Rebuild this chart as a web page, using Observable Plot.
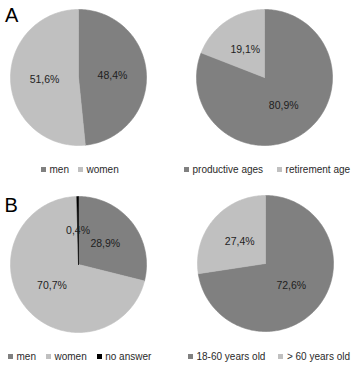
<!DOCTYPE html>
<html>
<head>
<meta charset="utf-8">
<script src="https://cdn.jsdelivr.net/npm/d3@7"></script>
<script src="https://cdn.jsdelivr.net/npm/@observablehq/plot@0.6"></script>
<style>
  html, body { margin: 0; padding: 0; background: #fff; }
  #root { position: relative; width: 360px; height: 372px; overflow: hidden; font-family: "Liberation Sans", Arial, sans-serif; }
  .pie { position: absolute; }
  .panel { position: absolute; font-size: 20px; line-height: 20px; color: #000; }
  .leg { position: absolute; }
  .leg > div { min-height: 0 !important; margin: 0 !important; padding: 0 !important; line-height: 12px !important;
               font: 10px "Liberation Sans", Arial, sans-serif !important; color: #2a2a2a !important;
               display: flex !important; flex-wrap: nowrap !important; align-items: center !important; }
  .leg span { display: inline-flex !important; align-items: center !important; white-space: nowrap; margin: 0 !important; }
  .leg svg { margin-right: 3.5px !important; margin-left: 0 !important; }
</style>
</head>
<body>
<div id="root"></div>
<script>
// ---- data ----
const panelLabels = ["A", "B"];

const sexA_categories = ["men", "women"];
const sexA_values = [48.4, 51.6];

const ageA_categories = ["productive ages", "retirement age"];
const ageA_values = [80.9, 19.1];

const sexB_categories = ["men", "women", "no answer"];
const sexB_values = [28.9, 70.7, 0.4];

const ageB_categories = ["18-60 years old", "> 60 years old"];
const ageB_values = [72.6, 27.4];

const DARK = "#808080", LIGHT = "#c0c0c0", BLACK = "#000000";
const sexColors = [DARK, LIGHT, BLACK];
const ageColors = [DARK, LIGHT];

// ---- helpers ----
function fmt(v) { return v.toFixed(1).replace(".", ",") + "%"; }

function slicePolygons(categories, values) {
  const total = d3.sum(values);
  const pts = [];
  let acc = 0;
  categories.forEach((c, i) => {
    const s = acc / total, e = (acc + values[i]) / total;
    acc += values[i];
    const n = Math.max(2, Math.ceil((e - s) * 360));
    pts.push({cat: c, x: 0, y: 0});
    for (let k = 0; k <= n; k++) {
      const t = 2 * Math.PI * (s + (e - s) * k / n);
      pts.push({cat: c, x: Math.sin(t), y: Math.cos(t)});
    }
    pts.push({cat: c, x: 0, y: 0});
  });
  return pts;
}

function sliceLabels(categories, values) {
  const total = d3.sum(values);
  let acc = 0;
  return categories.map((c, i) => {
    const m = (acc + values[i] / 2) / total;
    acc += values[i];
    const t = 2 * Math.PI * m;
    return {cat: c, x: 0.5 * Math.sin(t), y: 0.5 * Math.cos(t), text: fmt(values[i])};
  });
}

function pie(categories, values, colors) {
  const size = 136;
  return Plot.plot({
    width: size, height: size, margin: 0,
    x: {domain: [-1, 1], axis: null},
    y: {domain: [-1, 1], axis: null},
    color: {domain: categories, range: colors.slice(0, categories.length)},
    style: {background: "transparent", overflow: "visible"},
    marks: [
      Plot.line(slicePolygons(categories, values), {
        x: "x", y: "y", z: "cat", fill: "cat", stroke: "cat", strokeWidth: 0.6, curve: "linear"
      }),
      Plot.text(sliceLabels(categories, values), {
        x: "x", y: "y", text: "text", fill: "#1e1e1e", fontSize: 10.5,
        fontFamily: "Liberation Sans, Arial, sans-serif"
      })
    ]
  });
}

function legend(categories, colors, gap) {
  const el = Plot.legend({
    color: {type: "ordinal", domain: categories, range: colors.slice(0, categories.length)},
    legend: "swatches", swatchSize: 5
  });
  el.querySelectorAll("span").forEach((s, i, all) => {
    if (i < all.length - 1) s.style.setProperty("margin-right", gap + "px", "important");
  });
  return el;
}

const root = document.getElementById("root");
function place(el, cls, left, top) {
  const wrap = document.createElement("div");
  wrap.className = cls;
  wrap.style.left = left + "px";
  wrap.style.top = top + "px";
  wrap.appendChild(el);
  root.appendChild(wrap);
  return wrap;
}

// pies
place(pie(sexA_categories, sexA_values, sexColors), "pie", 10, 9);
place(pie(ageA_categories, ageA_values, ageColors), "pie", 196, 9);
place(pie(sexB_categories, sexB_values, sexColors), "pie", 10, 196);
place(pie(ageB_categories, ageB_values, ageColors), "pie", 197, 195);

// legends
place(legend(sexA_categories, sexColors, 9), "leg", 41, 163.5);
place(legend(ageA_categories, ageColors, 14), "leg", 184, 163.5);
place(legend(sexB_categories, sexColors, 10), "leg", 8, 351);
place(legend(ageB_categories, ageColors, 13), "leg", 188, 351);

// panel letters
panelLabels.forEach((t, i) => {
  const d = document.createElement("div");
  d.className = "panel";
  d.textContent = t;
  d.style.left = (i === 0 ? 5 : 4.5) + "px";
  d.style.top = (i === 0 ? 4.5 : 195) + "px";
  root.appendChild(d);
});
</script>
</body>
</html>
